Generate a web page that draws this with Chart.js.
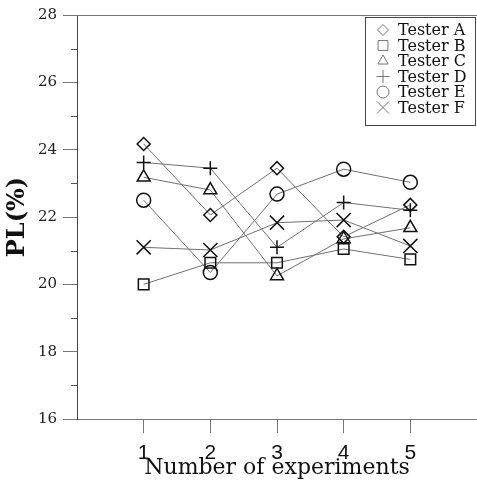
<!DOCTYPE html>
<html>
<head>
<meta charset="utf-8">
<script src="https://cdn.jsdelivr.net/npm/chart.js@4/dist/chart.umd.min.js"></script>
<style>
  html, body { margin: 0; padding: 0; background: #fff; }
  #wrap { width: 477px; height: 482px; }
</style>
</head>
<body>
<div id="wrap"><canvas id="myChart" width="477" height="482"></canvas></div>
<script>
const experiments = [1, 2, 3, 4, 5];
const testerNames = ['Tester A', 'Tester B', 'Tester C', 'Tester D', 'Tester E', 'Tester F'];
const testerA = [24.17, 22.06, 23.45, 21.41, 22.36];
const testerB = [20.0, 20.64, 20.64, 21.05, 20.74];
const testerC = [23.18, 22.8, 20.25, 21.35, 21.68];
const testerD = [23.62, 23.45, 21.1, 22.43, 22.2];
const testerE = [22.5, 20.35, 22.68, 23.42, 23.03];
const testerF = [21.1, 21.02, 21.83, 21.91, 21.14];
const yTicks = [16, 18, 20, 22, 24, 26, 28];

const series = [testerA, testerB, testerC, testerD, testerE, testerF];
const markers = ['rectRot', 'rect', 'triangle', 'cross', 'circle', 'crossRot'];
const radii = [6.5, 7.5, 7.5, 7, 7, 10];
const legendRadii = [5.5, 7, 6, 6.5, 6, 8.5];

const serif = '"DejaVu Serif", "Liberation Serif", serif';
const sans = '"Liberation Sans", Arial, sans-serif';

const datasets = series.map((vals, i) => ({
  label: testerNames[i],
  data: vals.map((v, j) => ({ x: experiments[j], y: v })),
  borderColor: '#707070',
  borderWidth: 1,
  pointStyle: markers[i],
  pointRadius: radii[i],
  pointBorderColor: '#111',
  pointBackgroundColor: 'rgba(255,255,255,0)',
  pointBorderWidth: 1.5,
  tension: 0,
  clip: false
}));

// minor ticks, top frame line and the boxed legend
const extras = {
  id: 'extras',
  afterDraw(chart) {
    const ctx = chart.ctx;
    const ya = chart.scales.y;
    const area = chart.chartArea;
    ctx.save();
    ctx.strokeStyle = '#555';
    ctx.lineWidth = 1;
    for (let v = 17; v < 28; v += 2) {
      const py = Math.round(ya.getPixelForValue(v)) + 0.5;
      ctx.beginPath();
      ctx.moveTo(area.left - 6, py);
      ctx.lineTo(area.left, py);
      ctx.stroke();
    }
    ctx.strokeStyle = '#777';
    ctx.beginPath();
    ctx.moveTo(area.left, area.top + 0.5);
    ctx.lineTo(area.right, area.top + 0.5);
    ctx.stroke();

    // legend
    const bx = 365.5, by = 17.5, bw = 110, bh = 108;
    ctx.strokeStyle = '#444';
    ctx.fillStyle = '#fff';
    ctx.fillRect(bx, by, bw, bh);
    ctx.strokeRect(bx, by, bw, bh);
    ctx.font = '16px ' + serif;
    ctx.textBaseline = 'middle';
    chart.data.datasets.forEach((ds, i) => {
      const cy = 30 + i * 15.5;
      ctx.strokeStyle = '#777';
      ctx.fillStyle = 'rgba(255,255,255,0)';
      ctx.lineWidth = 1;
      Chart.helpers.drawPoint(ctx, { pointStyle: ds.pointStyle, radius: legendRadii[i], borderWidth: 1, rotation: 0 }, 383, cy);
      ctx.fillStyle = '#111';
      ctx.fillText(ds.label, 398, cy + 1);
    });
    ctx.restore();
  }
};

const config = {
  type: 'line',
  data: { datasets: datasets },
  options: {
    responsive: false,
    animation: false,
    layout: { autoPadding: false, padding: { top: 15, right: 0, left: 0, bottom: 0 } },
    plugins: { legend: { display: false }, tooltip: { enabled: false } },
    scales: {
      x: {
        type: 'linear',
        min: 0,
        max: 6,
        afterBuildTicks: (s) => { s.ticks = experiments.map(v => ({ value: v })); },
        afterFit: (s) => { s.height = 63; s.paddingRight = 0; s.paddingLeft = 0; },
        grid: { drawOnChartArea: false, drawTicks: true, tickLength: 14, color: '#777' },
        border: { color: '#777', width: 1 },
        ticks: { font: { family: sans, size: 21 }, color: '#111', padding: 8, maxRotation: 0 },
        title: { display: true, text: 'Number of experiments', font: { family: serif, size: 22 }, color: '#111', padding: { top: 0, bottom: 1 } }
      },
      y: {
        min: 16,
        max: 28,
        afterBuildTicks: (s) => { s.ticks = yTicks.map(v => ({ value: v })); },
        afterFit: (s) => { s.width = 77; s.paddingTop = 0; s.paddingBottom = 0; },
        grid: { drawOnChartArea: false, drawTicks: true, tickLength: 14, color: '#777' },
        border: { color: '#444', width: 1 },
        ticks: { font: { family: serif, size: 15 }, color: '#222', padding: 6 },
        title: { display: true, text: 'PL(%)', font: { family: serif, size: 24, weight: 'bold' }, color: '#111', padding: { top: 3, bottom: 0 } }
      }
    }
  },
  plugins: [extras]
};

const myChart = new Chart(document.getElementById('myChart'), config);
</script>
</body>
</html>
